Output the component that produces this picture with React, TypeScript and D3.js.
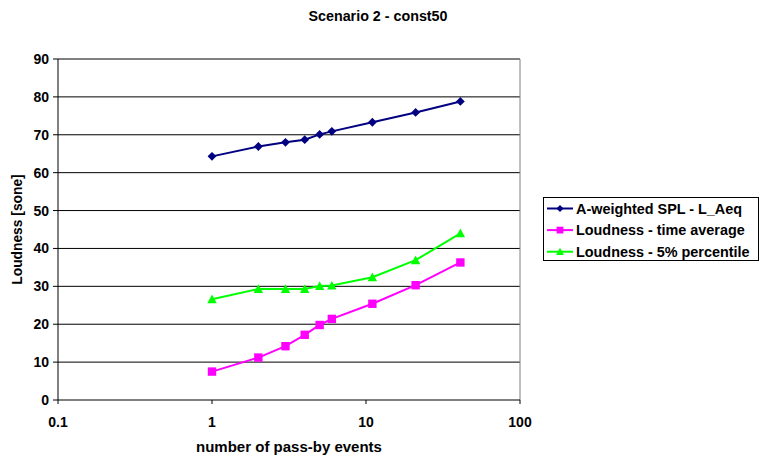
import React from "react";
import * as d3 from "d3";

const events = [1, 2, 3, 4, 5, 6, 11, 21, 41];
const splAeq = [64.3, 66.9, 68.0, 68.7, 70.1, 70.9, 73.3, 75.9, 78.8];
const loudAvg = [7.5, 11.2, 14.2, 17.2, 19.8, 21.4, 25.4, 30.3, 36.3];
const loud5 = [26.6, 29.3, 29.3, 29.3, 30.1, 30.2, 32.4, 36.9, 44.0];
const xTicks = [0.1, 1, 10, 100];
const yTicks = [0, 10, 20, 30, 40, 50, 60, 70, 80, 90];

// marker outlines centred on 0,0, r = half size
const diamond = (r: number) => `M0,${-r}L${r},0L0,${r}L${-r},0Z`;
const square = (r: number) => `M${-r},${-r}H${r}V${r}H${-r}Z`;
const triangle = (r: number) => `M0,${-r}L${r},${r * 0.85}L${-r},${r * 0.85}Z`;

const series = [
  { name: "A-weighted SPL - L_Aeq", values: splAeq, color: "#000080", shape: diamond, r: 4.4 },
  { name: "Loudness - time average", values: loudAvg, color: "#ff00ff", shape: square, r: 4.2 },
  { name: "Loudness - 5% percentile", values: loud5, color: "#00ff00", shape: triangle, r: 4.7 },
];

const W = 760;
const H = 457;
const m = { left: 58, right: 520, top: 59, bottom: 400 };
const font = "'Liberation Sans', Arial, sans-serif";

export default function App() {
  const x = d3.scaleLog().domain([0.1, 100]).range([m.left, m.right]);
  const y = d3.scaleLinear().domain([0, 90]).range([m.bottom, m.top]);
  const line = d3
    .line<number>()
    .x((_, i) => x(events[i]))
    .y((d) => y(d));

  return (
    <svg
      width={W}
      height={H}
      style={{ position: "absolute", left: 0, top: 0, background: "#fff" }}
      fontFamily={font}
      fontWeight="bold"
    >
      <text x={378} y={21} textAnchor="middle" fontSize={14.3}>
        Scenario 2 - const50
      </text>

      {/* grid */}
      {yTicks.slice(1).map((t) => (
        <line key={t} x1={m.left} x2={m.right} y1={y(t)} y2={y(t)} stroke="#000" strokeWidth={1} />
      ))}
      <line x1={m.right} x2={m.right} y1={m.top} y2={m.bottom} stroke="#808080" />

      {/* axes */}
      <line x1={m.left} x2={m.left} y1={m.top} y2={m.bottom} stroke="#000" />
      <line x1={m.left} x2={m.right} y1={m.bottom} y2={m.bottom} stroke="#000" />
      {yTicks.map((t) => (
        <g key={t}>
          <line x1={m.left - 5} x2={m.left} y1={y(t)} y2={y(t)} stroke="#000" />
          <text x={m.left - 9} y={y(t) + 5} textAnchor="end" fontSize={14}>
            {t}
          </text>
        </g>
      ))}
      {xTicks.map((t) => (
        <g key={t}>
          <line x1={x(t)} x2={x(t)} y1={m.bottom} y2={m.bottom + 4} stroke="#000" />
          <text x={x(t)} y={427} textAnchor="middle" fontSize={14}>
            {t}
          </text>
        </g>
      ))}
      <text x={(m.left + m.right) / 2} y={452} textAnchor="middle" fontSize={15}>
        number of pass-by events
      </text>
      <text
        transform={`translate(22, ${(m.top + m.bottom) / 2}) rotate(-90)`}
        textAnchor="middle"
        fontSize={13.8}
      >
        Loudness [sone]
      </text>

      {/* series */}
      {series.map((s) => (
        <g key={s.name}>
          <path d={line(s.values) || ""} fill="none" stroke={s.color} strokeWidth={2} />
          {s.values.map((v, i) => (
            <path
              key={i}
              d={s.shape(s.r)}
              transform={`translate(${x(events[i])},${y(v)})`}
              fill={s.color}
            />
          ))}
        </g>
      ))}

      {/* legend */}
      <rect x={543.5} y={197.5} width={215} height={63} fill="#fff" stroke="#000" />
      {series.map((s, i) => {
        const ly = 208.5 + i * 21.6;
        return (
          <g key={s.name}>
            <line x1={547} x2={573} y1={ly} y2={ly} stroke={s.color} strokeWidth={2} />
            <path d={s.shape(s.r - 0.8)} transform={`translate(560,${ly})`} fill={s.color} />
            <text x={576} y={ly + 5} fontSize={14.4}>
              {s.name}
            </text>
          </g>
        );
      })}
    </svg>
  );
}
